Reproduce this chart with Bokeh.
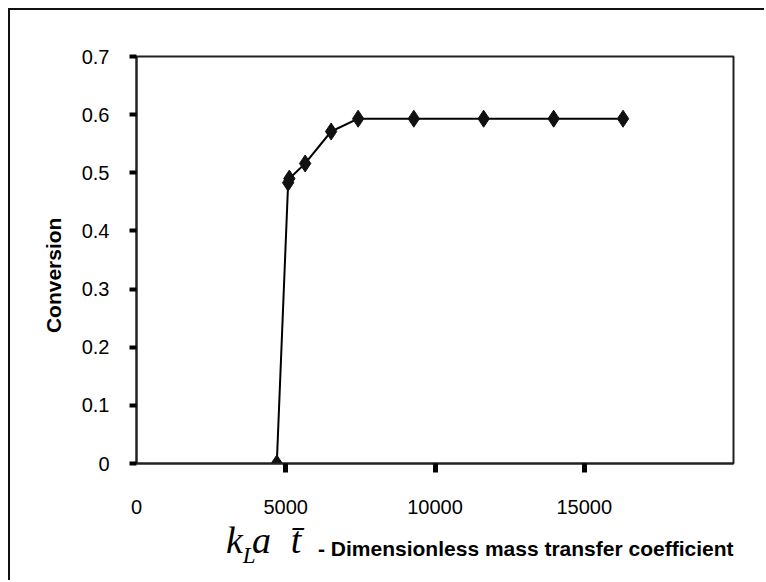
import math
from bokeh.plotting import figure
from bokeh.models import Range1d, FixedTicker, LinearAxis, Label, CustomJSTickFormatter
from bokeh.embed import file_html
from bokeh.resources import INLINE

# data
kla_t = [4700, 5080, 5120, 5650, 6520, 7425, 9290, 11630, 13975, 16300]
conversion = [0.0, 0.483, 0.490, 0.516, 0.571, 0.593, 0.593, 0.593, 0.593, 0.593]

x_tick_marks = [5000, 10000, 15000]
x_tick_labels = [0, 5000, 10000, 15000]
y_ticks = [0, 0.1, 0.2, 0.3, 0.4, 0.5, 0.6, 0.7]

y_label = "Conversion"
x_label_text = "- Dimensionless mass transfer coefficient"

SANS = "Liberation Sans"
SERIF = "Liberation Serif"

p = figure(width=756, height=572, output_backend="svg", toolbar_location=None,
           x_range=Range1d(0, 20000), y_range=Range1d(0, 0.7),
           x_axis_location=None, y_axis_location="left",
           min_border_left=126, min_border_right=33, min_border_top=46, min_border_bottom=119)
p.grid.visible = False
p.background_fill_color = "white"
p.border_fill_color = "white"
p.outline_line_color = "#222222"
p.outline_line_width = 2
p.styles = {"margin-left": "8px", "margin-top": "8px",
            "border-top": "2px solid #111", "border-left": "2px solid #111"}

# y axis
ya = p.yaxis[0]
ya.ticker = FixedTicker(ticks=y_ticks)
ya.formatter = CustomJSTickFormatter(code="return tick == 0 ? '0' : tick.toFixed(1);")
ya.minor_tick_line_color = None
ya.major_tick_out = 7
ya.major_tick_in = 0
ya.major_tick_line_width = 4
ya.major_tick_line_color = "black"
ya.axis_line_width = 2
ya.axis_line_color = "#222222"
ya.major_label_standoff = 20
ya.major_label_text_font = SANS
ya.major_label_text_font_size = "20px"
ya.major_label_text_color = "black"

# x axis: tick marks only
xa = LinearAxis(ticker=FixedTicker(ticks=x_tick_marks))
xa.major_tick_out = 9
xa.major_tick_in = 0
xa.major_tick_line_width = 5
xa.major_tick_line_color = "black"
xa.minor_tick_line_color = None
xa.axis_line_width = 2
xa.axis_line_color = "#222222"
xa.major_label_text_font_size = "1px"
xa.major_label_text_color = None
xa.major_label_standoff = 0
p.add_layout(xa, "below")

# x axis: labels only
xb = LinearAxis(ticker=FixedTicker(ticks=x_tick_labels))
xb.formatter = CustomJSTickFormatter(code="return tick.toFixed(0);")
xb.axis_line_color = None
xb.major_tick_line_color = None
xb.minor_tick_line_color = None
xb.major_label_standoff = 21
xb.major_label_text_font = SANS
xb.major_label_text_font_size = "20px"
xb.major_label_text_color = "black"
p.add_layout(xb, "below")

p.line(kla_t, conversion, line_color="black", line_width=2)
p.scatter(kla_t, conversion, marker="diamond", size=17, fill_color="#111111", line_color="#111111")

def lab(side, x, y, text, **kw):
    # labels placed in a side panel are not clipped to the plot frame;
    # spread over the panels so that they fit in the borders
    p.add_layout(Label(x=x, y=y, text=text, **kw), side)

# y axis title
lab("left", -2780, 0.3236, y_label, angle=math.pi / 2, text_align="center", text_baseline="middle",
    text_font=SANS, text_font_size="21px", text_font_style="bold", text_color="black")

# x axis title (math part + bold text)
lab("below", 20000, -0.1456, x_label_text, text_align="right", text_baseline="alphabetic",
    text_font=SANS, text_font_size="21px", text_font_style="bold", text_color="black")
lab("above", 3000, -0.1318, "k", text_align="left", text_baseline="alphabetic",
    text_font=SERIF, text_font_size="38px", text_font_style="italic", text_color="black")
lab("left", 3560, -0.1590, "L", text_align="left", text_baseline="alphabetic",
    text_font=SERIF, text_font_size="23px", text_font_style="italic", text_color="black")
lab("left", 3870, -0.1318, "a", text_align="left", text_baseline="alphabetic",
    text_font=SERIF, text_font_size="38px", text_font_style="italic", text_color="black")
lab("right", 5170, -0.1318, "t\u0304", text_align="left", text_baseline="alphabetic",
    text_font=SERIF, text_font_size="38px", text_font_style="italic", text_color="black")

open("out.html", "w").write(file_html(p, INLINE))
